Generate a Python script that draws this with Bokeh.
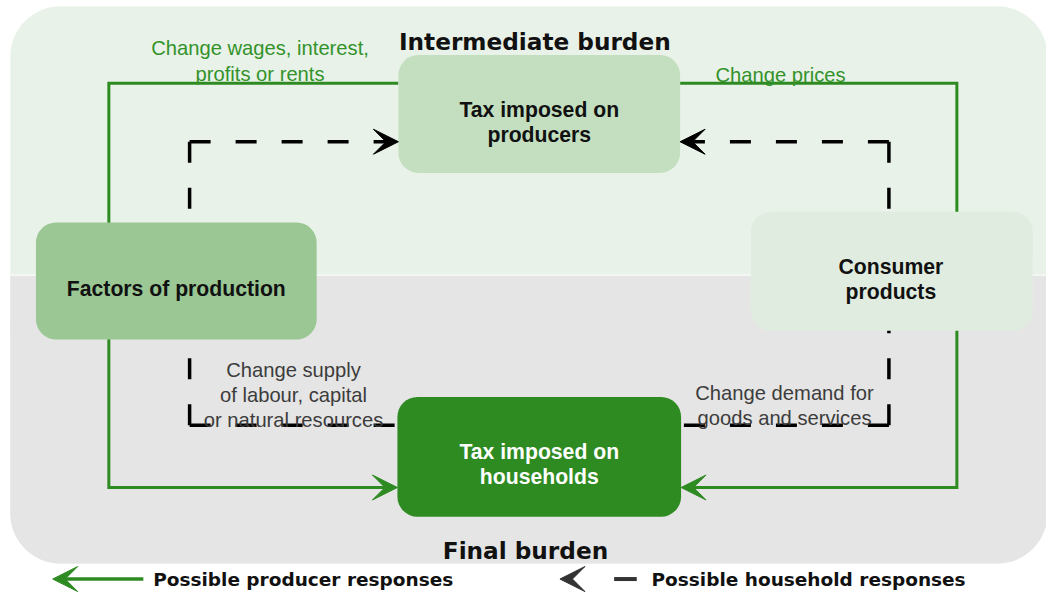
from bokeh.plotting import figure
from bokeh.models import Range1d, ColumnDataSource, Arrow, VeeHead
from bokeh.embed import file_html
from bokeh.resources import INLINE
from bokeh.core.properties import value

# ---------------- content (texts of the diagram) ----------------
zone_titles = ["Intermediate burden", "Final burden"]
box_names = ["producers", "households", "factors", "consumer"]
box_lines = [["Tax imposed on", "producers"],
             ["Tax imposed on", "households"],
             ["Factors of production"],
             ["Consumer", "products"]]
producer_notes = [["Change wages, interest,", "profits or rents"], ["Change prices"]]
household_notes = [["Change supply", "of labour, capital", "or natural resources"],
                   ["Change demand for", "goods and services"]]
legend_labels = ["Possible producer responses", "Possible household responses"]

# ---------------- layout (reference-image pixel coordinates) ----------------
W, H = 1046, 599
REF_W, REF_H = 1062, 615
GREEN = "#2E8B22"
BLACK = "#000000"
GREY_TXT = "#3C3C3C"

box_left = [404, 403, 36, 762]
box_right = [690, 691, 321, 1048]
box_top = [56, 407, 228, 217]
box_bottom = [177, 530, 348, 339]
box_fill = ["#C3DFC0", "#2E8B22", "#9AC794", "#E0ECDF"]
box_text_color = ["#111111", "#FFFFFF", "#111111", "#111111"]
box_text_x = [547, 547, 178.5, 904]
box_text_y0 = [111.5, 463, 296, 273]

title_x = [542.5, 533]
title_y = [42, 565]

LINE_H = 26

p = figure(width=W, height=H, x_range=Range1d(0, REF_W), y_range=Range1d(REF_H, 0),
           output_backend="svg", toolbar_location=None, min_border=0,
           x_axis_location=None, y_axis_location=None)
p.grid.visible = False
p.outline_line_color = None
p.background_fill_color = "white"
p.border_fill_color = "white"

# background panel: light green top half, grey bottom half
PX0, PX1, PY0, PYM, PY1 = 10, 1063, 6, 282, 578
p.quad(left=[PX0], right=[PX1], top=[PY0], bottom=[PY1], fill_color="#E8F2E8",
       line_color=None, border_radius=50)
p.quad(left=[PX0], right=[PX1], top=[PYM], bottom=[PY1], fill_color="#E5E5E5",
       line_color=None, border_radius=50)
p.quad(left=[PX0], right=[PX1], top=[PYM], bottom=[PYM + 60], fill_color="#E5E5E5",
       line_color=None)
p.segment(x0=[PX0], x1=[PX1], y0=[PYM], y1=[PYM], line_color="white", line_width=1)

# ---------------- connectors ----------------
DASH = "21 25"
dash_kw = dict(line_color=BLACK, line_width=3.5, line_dash=DASH, line_cap="butt")
# household responses (dashed), each leg starts at its corner
p.line([192, 403], [436, 436], **dash_kw)
p.line([192, 192], [436, 300], **dash_kw)
p.line([192, 192], [145, 300], **dash_kw)
p.line([192, 392], [145, 145], **dash_kw)
p.line([902, 690], [436, 436], **dash_kw)
p.line([902, 902], [436, 300], **dash_kw)
p.line([902, 902], [145, 300], **dash_kw)
p.line([902, 702], [145, 145], **dash_kw)

# producer responses (solid green)
g_kw = dict(line_color=GREEN, line_width=3, line_join="miter")
p.line([404, 110, 110, 391], [85, 85, 500, 500], **g_kw)
p.line([690, 971, 971, 703], [85, 85, 500, 500], **g_kw)


def head(tip_x, y, direction, color):
    p.add_layout(Arrow(end=VeeHead(size=25, fill_color=color, line_color=color, line_width=1),
                       x_start=tip_x - 10 * direction, y_start=y, x_end=tip_x, y_end=y,
                       line_alpha=0))


head(404, 145, 1, BLACK)
head(690, 145, -1, BLACK)
head(403, 500, 1, GREEN)
head(691, 500, -1, GREEN)

# ---------------- boxes ----------------
p.quad(left=box_left, right=box_right, top=box_top, bottom=box_bottom,
       fill_color=box_fill, line_color=None, border_radius=20)

bx, by, bt, bc = [], [], [], []
for i, lines in enumerate(box_lines):
    for j, t in enumerate(lines):
        bx.append(box_text_x[i])
        by.append(box_text_y0[i] + j * LINE_H)
        bt.append(t)
        bc.append(box_text_color[i])
p.text(x="x", y="y", text="t", text_color="c",
       source=ColumnDataSource(dict(x=bx, y=by, t=bt, c=bc)),
       text_font=value("Liberation Sans"), text_font_style="bold",
       text_font_size="21.2px", text_align="center", text_baseline="alphabetic")

# zone titles
p.text(x=title_x, y=title_y, text=zone_titles, text_color="#111111",
       text_font=value("DejaVu Sans"), text_font_style="bold",
       text_font_size="23.2px", text_align="center", text_baseline="alphabetic")

# notes
note_x0 = [263.5, 792]
note_y0 = [49, 76]
nx, ny, nt = [], [], []
for i, lines in enumerate(producer_notes):
    for j, t in enumerate(lines):
        nx.append(note_x0[i]); ny.append(note_y0[i] + j * LINE_H); nt.append(t)
p.text(x=nx, y=ny, text=nt, text_color="#33922A",
       text_font=value("Liberation Sans"), text_font_size="20.2px",
       text_align="center", text_baseline="alphabetic")

hnote_x0 = [297.5, 796]
hnote_y0 = [379, 403]
hx, hy, ht = [], [], []
for i, lines in enumerate(household_notes):
    for j, t in enumerate(lines):
        hx.append(hnote_x0[i]); hy.append(hnote_y0[i] + j * LINE_H); ht.append(t)
p.text(x=hx, y=hy, text=ht, text_color=GREY_TXT,
       text_font=value("Liberation Sans"), text_font_size="20.2px",
       text_align="center", text_baseline="alphabetic")

# ---------------- legend ----------------
LEG_Y = 594
p.line([145, 64], [LEG_Y, LEG_Y], line_color=GREEN, line_width=3.5)
head(53, LEG_Y, -1, GREEN)
head(568, LEG_Y, -1, "#333333")
p.line([623, 646], [LEG_Y, LEG_Y], line_color="#333333", line_width=4)
p.text(x=[155, 661], y=[LEG_Y, LEG_Y], text=legend_labels, text_color="#111111",
       text_font=value("DejaVu Sans"), text_font_style="bold", text_font_size="18.5px",
       text_align="left", text_baseline="middle")

open("out.html", "w").write(file_html(p, INLINE))
